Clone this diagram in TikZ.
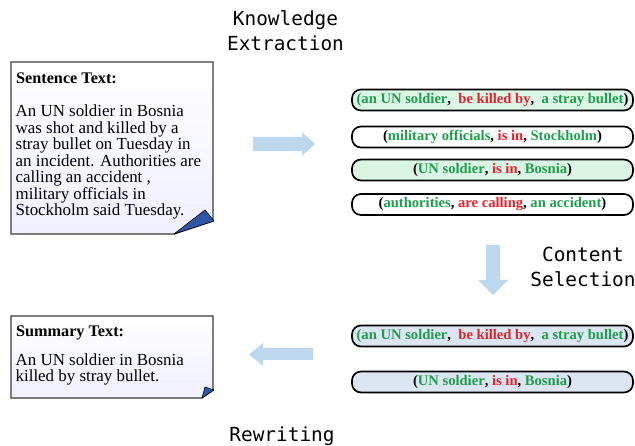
\documentclass[tikz,border=0pt]{standalone}
\usepackage{fontspec}
\setmainfont{Liberation Serif}
\newfontfamily\labelmono{DejaVu Sans Mono}

\definecolor{argcol}{HTML}{1E9E4C}
\definecolor{relcol}{HTML}{E8202A}
\definecolor{mintfill}{HTML}{DBF5E5}
\definecolor{palefill}{HTML}{DCE6F3}
\definecolor{arrowfill}{HTML}{BDD7EE}
\definecolor{foldblue}{HTML}{2F56A6}
\definecolor{pageedge}{HTML}{3A3A3A}

\tikzset{
  x=1pt, y=-1pt,
  triple/.style={draw=black, line width=1.7pt, rounded corners=9pt,
    minimum width=281pt, minimum height=21pt, inner sep=0pt,
    font=\bfseries\fontsize{14.6}{16}\selectfont},
  steplabel/.style={font=\labelmono\fontsize{19.4}{25}\selectfont, align=center, inner sep=0pt},
  notetitle/.style={anchor=base west, inner sep=0pt, font=\bfseries\fontsize{16.2}{17}\selectfont},
  notebody/.style={anchor=north west, inner sep=0pt, align=left, font=\fontsize{16.9}{16.5}\selectfont},
  blockarrow/.style={fill=arrowfill, draw=none},
  fold/.style={fill=foldblue, draw=black, line width=0.6pt, line join=round},
  notepage/.style={draw=pageedge, line width=1.3pt, top color=white, bottom color=blue!6!white},
}
\newcommand{\argt}[1]{\textcolor{argcol}{#1}}
\newcommand{\relt}[1]{\textcolor{relcol}{#1}}

\begin{document}
\begin{tikzpicture}
\useasboundingbox (0,0) rectangle (635,446);

% --- source sentence page with curled corner
\path[notepage] (11,62) -- (213,62) -- (213,221) -- (174,234) -- (11,234) -- cycle;
\path[fold] (174,234) -- (205,210) -- (214,221) -- cycle;
\node[notetitle] (srctitle) at (16,83.5) {Sentence Text:};
\node[notebody] (srcbody) at (15.5,105) {An UN soldier in Bosnia\\was shot and killed by a\\stray bullet on Tuesday in\\an incident. Authorities are\\calling an accident ,\\military officials in\\Stockholm said Tuesday.};

% --- summary page with curled corner
\path[notepage] (11,316) -- (213,316) -- (213,390) -- (202,398) -- (11,398) -- cycle;
\path[fold] (202,398) -- (205,387) -- (214,390) -- cycle;
\node[notetitle] (sumtitle) at (16,336.5) {Summary Text:};
\node[notebody] (sumbody) at (15.5,353.4) {An UN soldier in Bosnia\\killed by stray bullet.};

% --- extracted triples
\node[triple, fill=mintfill] (t1) at (492.5,100) {\argt{(an UN soldier},\ \ \relt{be killed by},\ \ \argt{a stray bullet})};
\node[triple, fill=white]    (t2) at (492.5,137) {(\argt{military officials}, \relt{is in}, \argt{Stockholm})};
\node[triple, fill=mintfill] (t3) at (492.5,170) {(\argt{UN soldier}, \relt{is in}, \argt{Bosnia})};
\node[triple, fill=white]    (t4) at (492.5,204.5) {(\argt{authorities}, \relt{are calling}, \argt{an accident})};

% --- selected triples
\node[triple, fill=palefill] (s1) at (492.5,336) {\argt{(an UN soldier},\ \ \relt{be killed by},\ \ \argt{a stray bullet})};
\node[triple, fill=palefill] (s2) at (492.5,382) {(\argt{UN soldier}, \relt{is in}, \argt{Bosnia})};

% --- stage arrows
\path[blockarrow] (253,137) -- (302,137) -- (302,132) -- (315,144) -- (302,156) -- (302,151) -- (253,151) -- cycle;
\path[blockarrow] (486,245) -- (500,245) -- (500,280) -- (508,280) -- (493,295) -- (478,280) -- (486,280) -- cycle;
\path[blockarrow] (313,348) -- (263,348) -- (263,343) -- (249,354.5) -- (263,366) -- (263,360) -- (313,360) -- cycle;

% --- stage names
\node[steplabel] (extract) at (285.5,31) {Knowledge\\Extraction};
\node[steplabel] (select) at (583,267) {Content\\Selection};
\node[steplabel, anchor=base] (rewrite) at (282,442) {Rewriting};
\end{tikzpicture}
\end{document}
